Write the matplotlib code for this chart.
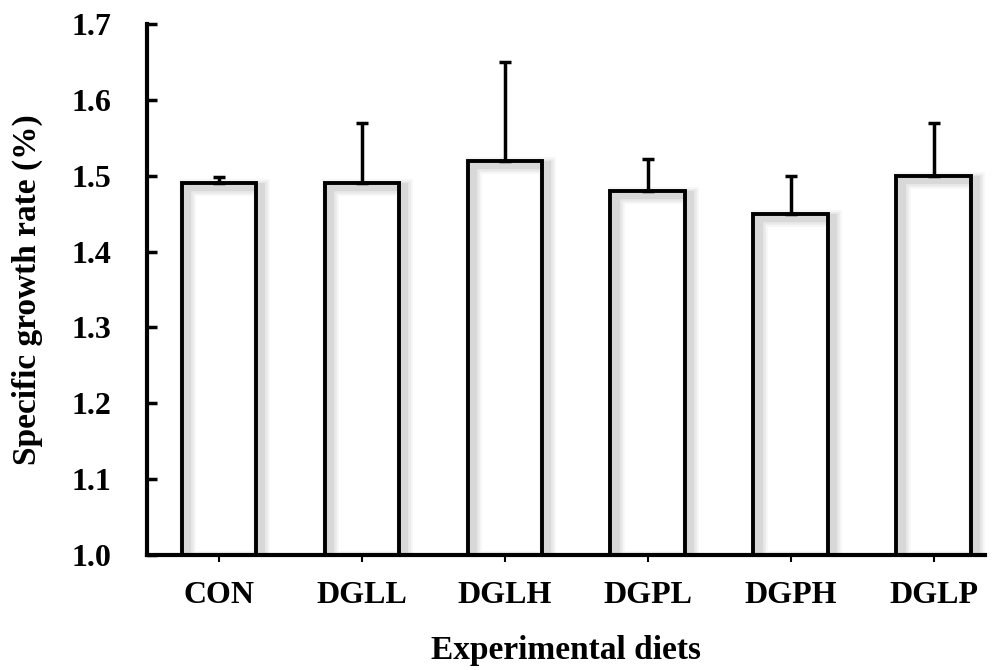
import numpy as np
import matplotlib.pyplot as plt
import matplotlib.patheffects as pe

plt.rcParams['font.family'] = 'serif'
plt.rcParams['font.serif'] = ['Liberation Serif', 'DejaVu Serif']
plt.rcParams['font.weight'] = 'bold'

diets = ['CON', 'DGLL', 'DGLH', 'DGPL', 'DGPH', 'DGLP']
sgr = [1.49, 1.49, 1.52, 1.48, 1.45, 1.50]
sd = [0.008, 0.08, 0.13, 0.042, 0.05, 0.07]

fig = plt.figure(figsize=(9.95, 6.7), dpi=100)
ax = fig.add_axes([0.148, 0.172, 0.842, 0.792])

x = np.arange(len(diets))
w = 0.52

# white fill first, then outlined bars with a soft offset shadow
ax.bar(x, np.array(sgr) - 1.0, w, bottom=1.0, color='white', edgecolor='none', zorder=2)
shadow = [pe.Stroke(offset=(4, -3), linewidth=w_, foreground='black', alpha=a)
          for w_, a in [(12, 0.035), (9, 0.05), (6, 0.07)]]
ax.bar(x, np.array(sgr) - 1.0, w, bottom=1.0, fill=False, edgecolor='black',
       linewidth=2.8, zorder=3, path_effects=shadow + [pe.Normal()])
ax.errorbar(x, sgr, yerr=[np.zeros(len(sd)), sd], fmt='none', ecolor='black',
            elinewidth=2.5, capsize=4.5, capthick=2.5, zorder=4)

ax.set_xlim(-0.5, 5.36)
ax.set_ylim(1.0, 1.7)
ax.set_yticks(np.arange(1.0, 1.71, 0.1))
ax.set_yticklabels(['%.1f' % v for v in np.arange(1.0, 1.71, 0.1)])
ax.set_xticks(x)
ax.set_xticklabels(diets)

for s in ['top', 'right']:
    ax.spines[s].set_visible(False)
for s in ['left', 'bottom']:
    ax.spines[s].set_linewidth(3)

ax.tick_params(axis='y', direction='in', length=7, width=2.5, labelsize=23, pad=26)
ax.tick_params(axis='x', direction='inout', length=10, width=1.5, labelsize=23, pad=14)

ax.set_xlabel('Experimental diets', fontsize=24, fontweight='bold', labelpad=18)
ax.set_ylabel('Specific growth rate (%)', fontsize=24, fontweight='bold', labelpad=20)

plt.savefig('out.png', dpi=100)
